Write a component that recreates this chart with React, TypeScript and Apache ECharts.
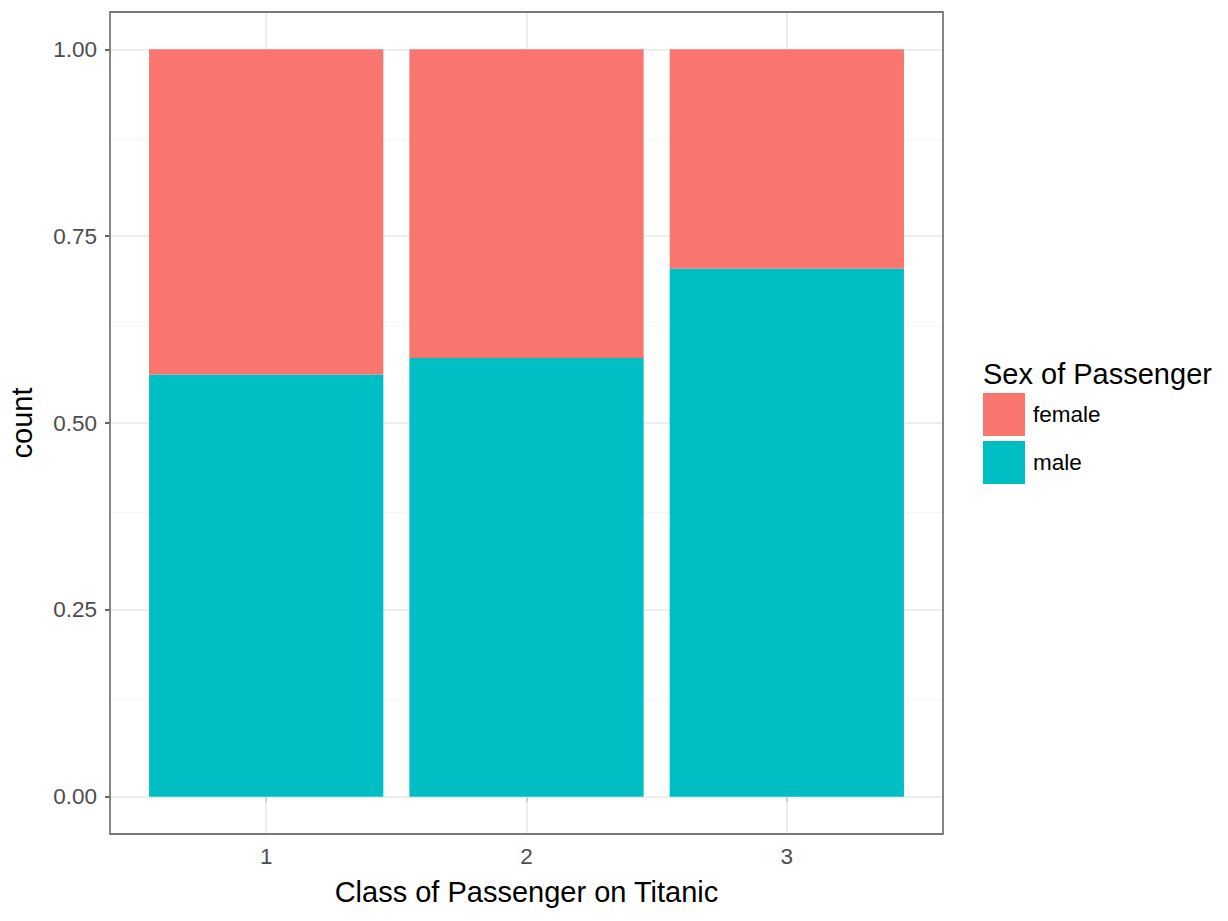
import React, { useEffect, useRef } from "react";
import * as echarts from "echarts";

const classes = [1, 2, 3];
const classLabels = ["1", "2", "3"];
const maleShare = [0.5648, 0.587, 0.7067];
const femaleShare = [0.4352, 0.413, 0.2933];
const yTicks = [0, 0.25, 0.5, 0.75, 1];
const yMinor = [0.125, 0.375, 0.625, 0.875];
const legendNames = ["female", "male"];

const FONT = "Liberation Sans, Arial, Helvetica, sans-serif";

export default function App() {
  const ref = useRef<HTMLDivElement>(null);
  useEffect(() => {
    if (!ref.current) return;
    const chart = echarts.init(ref.current, null, { renderer: "svg" });
    const gridLines: any[] = [];
    yMinor.forEach((v) =>
      gridLines.push({ yAxis: v, lineStyle: { color: "#f2f2f2", width: 0.8, type: "solid" } })
    );
    yTicks.forEach((v) =>
      gridLines.push({ yAxis: v, lineStyle: { color: "#e8e8e8", width: 1.6, type: "solid" } })
    );
    classes.forEach((v) =>
      gridLines.push({ xAxis: v, lineStyle: { color: "#e8e8e8", width: 1.6, type: "solid" } })
    );
    chart.setOption({
      animation: false,
      backgroundColor: "#ffffff",
      textStyle: { fontFamily: FONT },
      grid: {
        left: 110,
        top: 12,
        width: 833,
        height: 822,
        containLabel: false,
        outerBoundsMode: "none",
        show: true,
        borderColor: "#7a7a7a",
        borderWidth: 1.8,
        backgroundColor: "transparent",
        z: 10,
      },
      xAxis: {
        type: "value",
        min: 0.4,
        max: 3.6,
        splitLine: { show: false },
        axisLine: { show: false },
        axisTick: { show: true, customValues: classes, length: 5, lineStyle: { color: "#333333", width: 1.5 } },
        axisLabel: {
          customValues: classes,
          formatter: (v: number) => classLabels[classes.indexOf(v)] ?? "",
          color: "#4d4d4d",
          fontSize: 22.5,
          margin: 11,
          fontFamily: FONT,
        },
        name: "Class of Passenger on Titanic",
        nameLocation: "middle",
        nameGap: 43,
        nameTextStyle: { color: "#000000", fontSize: 29, fontFamily: FONT },
      },
      yAxis: {
        type: "value",
        min: -0.05,
        max: 1.05,
        splitLine: { show: false },
        axisLine: { show: false },
        axisTick: { show: true, customValues: yTicks, length: 5, lineStyle: { color: "#333333", width: 1.5 } },
        axisLabel: {
          customValues: yTicks,
          formatter: (v: number) => v.toFixed(2),
          color: "#4d4d4d",
          fontSize: 22.5,
          margin: 13,
          fontFamily: FONT,
        },
        name: "count",
        nameLocation: "middle",
        nameGap: 74,
        nameTextStyle: { color: "#000000", fontSize: 29, fontFamily: FONT },
      },
      legend: {
        data: legendNames,
        orient: "vertical",
        left: 983,
        top: 393,
        padding: 0,
        itemWidth: 42,
        itemHeight: 43,
        itemGap: 5,
        icon: "rect",
        selectedMode: false,
        textStyle: { color: "#000000", fontSize: 22.5, fontFamily: FONT, padding: [0, 0, 0, 3] },
      },
      graphic: [
        {
          type: "text",
          left: 983,
          top: 359,
          style: { text: "Sex of Passenger", fontSize: 29, fill: "#000000", fontFamily: FONT },
        },
      ],
      series: [
        {
          type: "scatter",
          data: [],
          silent: true,
          z: 1,
          markLine: {
            silent: true,
            z: 1,
            symbol: "none",
            label: { show: false },
            data: gridLines,
          },
        },
        {
          name: "male",
          type: "bar",
          stack: "total",
          barWidth: "90%",
          z: 3,
          itemStyle: { color: "#00BFC4" },
          encode: { x: 1, y: 0 },
          data: classes.map((c, i) => [maleShare[i], c]),
        },
        {
          name: "female",
          type: "bar",
          stack: "total",
          barWidth: "90%",
          z: 3,
          itemStyle: { color: "#F8766D" },
          encode: { x: 1, y: 0 },
          data: classes.map((c, i) => [femaleShare[i], c]),
        },
      ],
    });
    return () => chart.dispose();
  }, []);
  return (
    <div
      ref={ref}
      style={{ position: "fixed", left: 0, top: 0, width: 1228, height: 921 }}
    />
  );
}
